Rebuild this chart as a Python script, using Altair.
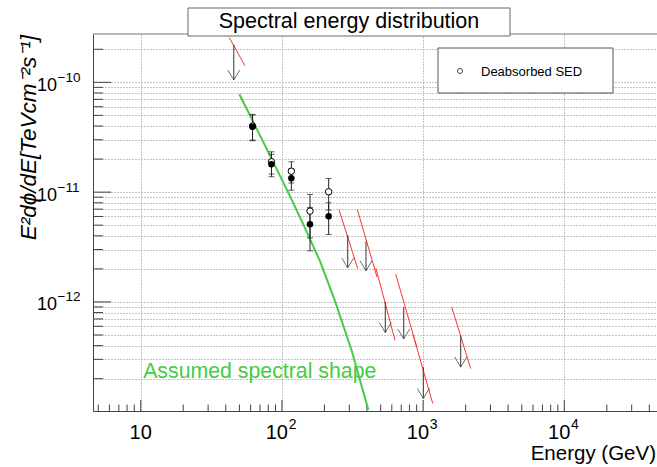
import altair as alt
import pandas as pd

# ---------------- data ----------------
obs_energy = [61.9, 84.3, 116.6, 158.1, 214.3]
obs_flux = [3.94e-11, 1.79e-11, 1.34e-11, 5.11e-12, 6.04e-12]
obs_flux_hi = [5.03e-11, 2.21e-11, 1.63e-11, 7.26e-12, 8.00e-12]
obs_flux_lo = [2.94e-11, 1.38e-11, 1.04e-11, 2.92e-12, 4.11e-12]

deabs_flux = [4.0e-11, 1.89e-11, 1.55e-11, 6.71e-12, 1.007e-11]
deabs_flux_hi = [5.1e-11, 2.33e-11, 1.89e-11, 9.53e-12, 1.33e-11]
deabs_flux_lo = [2.98e-11, 1.46e-11, 1.21e-11, 3.83e-12, 6.86e-12]

ul_energy = [45.6, 292.4, 394.0, 539.5, 729.0, 1003.0, 1846.0]
ul_flux = [2.19e-10, 4.06e-12, 3.57e-12, 1.0e-12, 9.0e-13, 2.55e-13, 4.97e-13]
ul_arrow_end = [1.05e-10, 2.04e-12, 1.92e-12, 5.26e-13, 4.60e-13, 1.32e-13, 2.55e-13]

ul_line_e1 = [42.4, 253.5, 342.0, 463.0, 639.5, 852.0, 1594.0]
ul_line_f1 = [2.55e-10, 6.95e-12, 6.95e-12, 2.03e-12, 1.79e-12, 4.97e-13, 9.0e-13]
ul_line_e2 = [54.6, 344.1, 471.6, 632.0, 901.0, 1169.0, 2173.0]
ul_line_f2 = [1.42e-10, 2.01e-12, 1.68e-12, 4.48e-13, 3.89e-13, 1.19e-13, 2.47e-13]

shape_energy = [49.93, 54.80, 84.40, 114.1, 145.7, 186.1, 237.7, 312.1, 409.2]
shape_flux = [7.775e-11, 6.143e-11, 2.020e-11, 9.19e-12, 4.696e-12, 2.35e-12, 1.015e-12, 3.59e-13, 1.04e-13]

x_major = [10, 100, 1000, 10000]
x_major_exp = ["", "2", "3", "4"]
y_major = [1e-12, 1e-11, 1e-10]
y_major_exp = ["\u221212", "\u221211", "\u221210"]

title_text = "Spectral energy distribution"
legend_text = "Deabsorbed SED"
shape_text = "Assumed spectral shape"
shape_text_pos = [10.4, 2.01e-13]
x_title = "Energy (GeV)"
y_title = "E\u00b2d\u03d5/dE[TeVcm\u207b\u00b2s\u207b\u00b9]"

# tick / grid positions
x_minor = [m * 10 ** e for e in range(0, 5) for m in range(2, 10) if 4.59 <= m * 10 ** e <= 45340]
y_grid = [m * 10.0 ** e for e in range(-13, -9) for m in range(1, 10) if 1.015e-13 <= m * 10.0 ** e <= 2.755e-10]
y_minor = [v for v in y_grid if all(abs(v - M) / M > 1e-6 for M in y_major)]

# ---------------- layout ----------------
W, H = 564, 377
FONT = "Liberation Sans"
GREEN = "#44cc44"
RED = "#ff3030"
INK = "#222222"

xs = alt.Scale(type="log", domain=[4.59, 45340], nice=False)
ys = alt.Scale(type="log", domain=[1.015e-13, 2.755e-10], nice=False)

xaxis = alt.Axis(values=x_major, grid=True, gridDash=[1, 2], gridColor="#8a8a8a", gridWidth=1,
                 labels=False, ticks=False, domain=True, domainColor="#444", domainWidth=1, title=None)
yaxis = alt.Axis(values=y_grid, grid=True, gridDash=[1, 2], gridColor="#8a8a8a", gridWidth=1,
                 labels=False, ticks=False, domain=True, domainColor="#444", domainWidth=1, title=None)


def X(f):
    return alt.X(f, type="quantitative", scale=xs, axis=xaxis)


def Y(f):
    return alt.Y(f, type="quantitative", scale=ys, axis=yaxis)


obs = pd.DataFrame({"e": obs_energy, "f": obs_flux, "hi": obs_flux_hi, "lo": obs_flux_lo})
deabs = pd.DataFrame({"e": obs_energy, "f": deabs_flux, "hi": deabs_flux_hi, "lo": deabs_flux_lo})
ul = pd.DataFrame({"e": ul_energy, "f": ul_flux, "end": ul_arrow_end,
                   "e1": ul_line_e1, "f1": ul_line_f1, "e2": ul_line_e2, "f2": ul_line_f2})
shape = pd.DataFrame({"e": shape_energy, "f": shape_flux})
xmaj = pd.DataFrame({"v": x_major, "exp": x_major_exp})
xmin = pd.DataFrame({"v": x_minor})
ymaj = pd.DataFrame({"v": y_major, "exp": y_major_exp})
ymin = pd.DataFrame({"v": y_minor})
one = pd.DataFrame({"a": [0]})

layers = []

# frame top line
layers.append(alt.Chart(one).mark_rule(color="#777", strokeWidth=1).encode(
    x=alt.value(0), x2=alt.value(W), y=alt.value(0)))

# grid carrier (invisible)
layers.append(alt.Chart(shape).mark_point(opacity=0).encode(x=X("e"), y=Y("f")))

# y ticks (inside)
layers.append(alt.Chart(ymaj).mark_rule(color="#444", strokeWidth=1).encode(
    y=Y("v"), x=alt.value(0), x2=alt.value(18)))
layers.append(alt.Chart(ymin).mark_rule(color="#444", strokeWidth=1).encode(
    y=Y("v"), x=alt.value(0), x2=alt.value(10)))
# x ticks (inside)
layers.append(alt.Chart(xmaj).mark_rule(color="#444", strokeWidth=1).encode(
    x=X("v"), y=alt.value(H), y2=alt.value(H - 11)))
layers.append(alt.Chart(xmin).mark_rule(color="#444", strokeWidth=1).encode(
    x=X("v"), y=alt.value(H), y2=alt.value(H - 6.5)))

# y tick labels
layers.append(alt.Chart(ymaj).mark_text(font=FONT, fontSize=18, align="right", baseline="alphabetic",
                                        dy=8.5, color="black").encode(
    y=Y("v"), x=alt.value(-36), text=alt.value("10")))
layers.append(alt.Chart(ymaj).mark_text(font=FONT, fontSize=13.5, align="left", baseline="alphabetic",
                                        dy=-0.5, color="black").encode(
    y=Y("v"), x=alt.value(-35.5), text="exp:N"))
# x tick labels
layers.append(alt.Chart(xmaj).transform_filter("datum.exp == ''").mark_text(
    font=FONT, fontSize=20, align="center", baseline="alphabetic", color="black").encode(
    x=X("v"), y=alt.value(H + 28), text=alt.value("10")))
layers.append(alt.Chart(xmaj).transform_filter("datum.exp != ''").mark_text(
    font=FONT, fontSize=20, align="right", baseline="alphabetic", dx=6, color="black").encode(
    x=X("v"), y=alt.value(H + 28), text=alt.value("10")))
layers.append(alt.Chart(xmaj).transform_filter("datum.exp != ''").mark_text(
    font=FONT, fontSize=14, align="left", baseline="alphabetic", dx=6.7, color="black").encode(
    x=X("v"), y=alt.value(H + 17.5), text="exp:N"))

# axis titles
layers.append(alt.Chart(one).mark_text(font=FONT, fontSize=20.5, align="right", baseline="alphabetic",
                                       color="black").encode(
    x=alt.value(W - 1), y=alt.value(H + 49), text=alt.value(x_title)))
layers.append(alt.Chart(one).mark_text(font=FONT, fontSize=22.5, fontStyle="italic", angle=270,
                                       align="right", baseline="alphabetic", color="black").encode(
    x=alt.value(-57), y=alt.value(1), text=alt.value(y_title)))

# assumed spectral shape
layers.append(alt.Chart(shape).mark_line(color=GREEN, strokeWidth=2, clip=True).encode(
    x=X("e"), y=Y("f"), order="e:Q"))
layers.append(alt.Chart(pd.DataFrame({"e": [shape_text_pos[0]], "f": [shape_text_pos[1]]})).mark_text(
    font=FONT, fontSize=21.3, align="left", baseline="alphabetic", color=GREEN).encode(
    x=X("e"), y=Y("f"), text=alt.value(shape_text)))

# upper limits: red slope lines, arrow shafts, arrow heads
layers.append(alt.Chart(ul).mark_rule(color=RED, strokeWidth=1).encode(
    x=X("e1"), y=Y("f1"), x2="e2", y2="f2"))
layers.append(alt.Chart(ul).mark_rule(color="#333", strokeWidth=1).encode(
    x=X("e"), y=Y("f"), y2="end"))
layers.append(alt.Chart(ul).mark_point(shape="M-0.6,-1L0,0L0.6,-1", filled=False, size=400,
                                       stroke="#333", strokeWidth=1).encode(
    x=X("e"), y=Y("end")))

# error bars
for df in (deabs, obs):
    layers.append(alt.Chart(df).mark_rule(color=INK, strokeWidth=1).encode(
        x=X("e"), y=Y("lo"), y2="hi"))
    for col in ("lo", "hi"):
        layers.append(alt.Chart(df).mark_point(shape="M-1,0L1,0", filled=False, size=36,
                                               stroke=INK, strokeWidth=1).encode(
            x=X("e"), y=Y(col)))

# points
layers.append(alt.Chart(deabs).mark_point(shape="circle", filled=False, size=42, stroke="black",
                                          strokeWidth=1, fill="white", fillOpacity=1).encode(
    x=X("e"), y=Y("f")))
layers.append(alt.Chart(obs).mark_point(shape="circle", filled=True, size=42, color="black",
                                        opacity=1).encode(x=X("e"), y=Y("f")))

# legend box
layers.append(alt.Chart(one).mark_rect(fill="white", stroke="#555", strokeWidth=1).encode(
    x=alt.value(345), x2=alt.value(520), y=alt.value(14), y2=alt.value(59)))
layers.append(alt.Chart(one).mark_point(shape="circle", filled=False, size=26, stroke="black",
                                        strokeWidth=1).encode(x=alt.value(367), y=alt.value(37)))
layers.append(alt.Chart(one).mark_text(font=FONT, fontSize=13, align="left", baseline="middle",
                                       color="black").encode(
    x=alt.value(388), y=alt.value(37.5), text=alt.value(legend_text)))

# title box
layers.append(alt.Chart(one).mark_rect(fill="white", stroke="#666", strokeWidth=1).encode(
    x=alt.value(95), x2=alt.value(417), y=alt.value(-26), y2=alt.value(2)))
layers.append(alt.Chart(one).mark_text(font=FONT, fontSize=21.5, align="center", baseline="alphabetic",
                                       color="black").encode(
    x=alt.value(256), y=alt.value(-6.5), text=alt.value(title_text)))

chart = alt.layer(*layers).properties(
    width=W, height=H,
    padding={"left": 93, "top": 34, "right": 0, "bottom": 56},
    autosize=alt.AutoSizeParams(type="none"),
    background="white",
).configure_view(stroke=None)

chart.save("out.html", embed_options={"renderer": "svg", "actions": False})
